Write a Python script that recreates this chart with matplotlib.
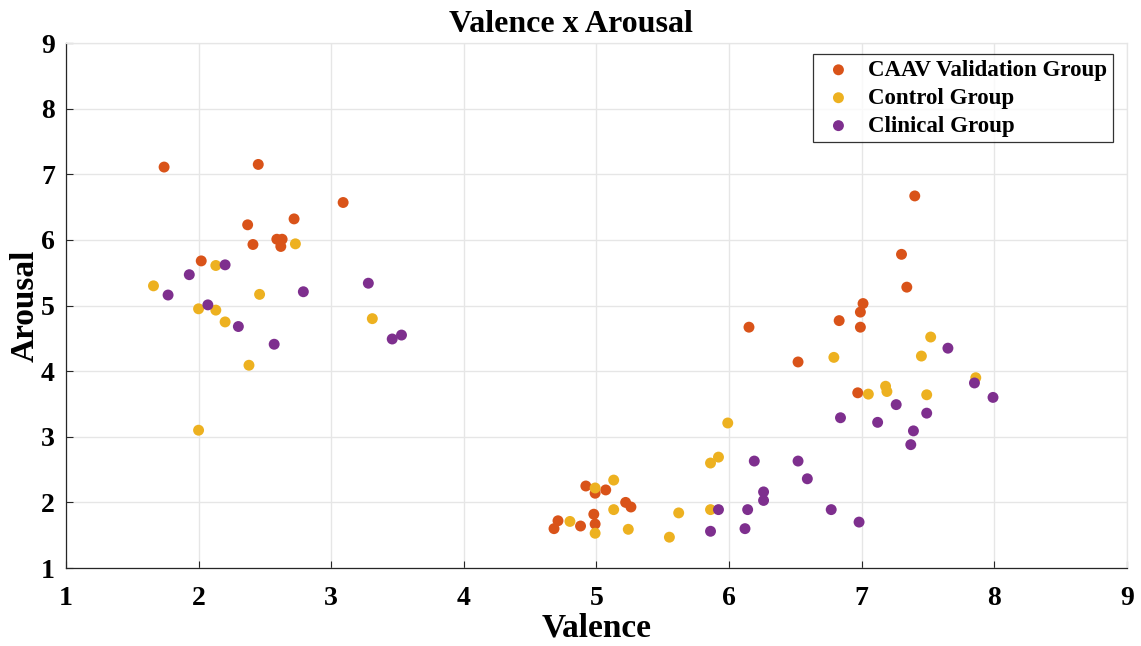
import matplotlib
matplotlib.use("Agg")
import matplotlib.pyplot as plt

caav_v = [1.74, 2.45, 3.09, 2.72, 2.37, 2.59, 2.63, 2.41, 2.62, 2.02,
          4.92, 4.99, 5.07, 5.22, 5.26, 4.98, 4.99, 4.71, 4.68, 4.88,
          7.30, 7.34, 7.01, 6.99, 6.83, 6.99, 6.15, 6.52, 6.97, 7.40]
caav_a = [7.11, 7.15, 6.57, 6.32, 6.23, 6.01, 6.01, 5.93, 5.90, 5.68,
          2.25, 2.14, 2.19, 2.00, 1.93, 1.82, 1.67, 1.72, 1.60, 1.64,
          5.78, 5.28, 5.03, 4.90, 4.77, 4.67, 4.67, 4.14, 3.67, 6.67]

ctrl_v = [2.73, 2.13, 1.66, 2.46, 2.00, 2.13, 2.20, 3.31, 2.38, 2.00,
          4.99, 5.13, 5.13, 4.80, 4.99, 5.24, 5.62, 5.55, 5.86, 5.86, 5.92, 5.99,
          6.79, 7.52, 7.45, 7.18, 7.19, 7.05, 7.49, 7.86]
ctrl_a = [5.94, 5.61, 5.30, 5.17, 4.95, 4.93, 4.75, 4.80, 4.09, 3.10,
          2.22, 2.34, 1.89, 1.71, 1.53, 1.59, 1.84, 1.47, 1.89, 2.60, 2.69, 3.21,
          4.21, 4.52, 4.23, 3.77, 3.69, 3.65, 3.64, 3.90]

clin_v = [2.20, 1.93, 1.77, 2.79, 3.28, 2.07, 2.30, 2.57, 3.46, 3.53,
          5.92, 5.86, 6.14, 6.12, 6.19, 6.26, 6.26, 6.52, 6.59, 6.77, 6.84, 6.98,
          7.65, 7.85, 7.99, 7.26, 7.49, 7.12, 7.39, 7.37]
clin_a = [5.62, 5.47, 5.16, 5.21, 5.34, 5.01, 4.68, 4.41, 4.49, 4.55,
          1.89, 1.56, 1.89, 1.60, 2.63, 2.16, 2.03, 2.63, 2.36, 1.89, 3.29, 1.70,
          4.35, 3.82, 3.60, 3.49, 3.36, 3.22, 3.09, 2.88]

labels = ["CAAV Validation Group", "Control Group", "Clinical Group"]
colors = ["#D95319", "#EDB120", "#7E2F8E"]
ticks = [1, 2, 3, 4, 5, 6, 7, 8, 9]

plt.rcParams['font.family'] = ['Liberation Serif', 'DejaVu Serif']
plt.rcParams['font.weight'] = 'bold'

fig = plt.figure(figsize=(11.41, 6.46), dpi=100)
ax = fig.add_axes([0.0578, 0.1207, 0.9299, 0.8127])

for xs, ys, lab, col in zip([caav_v, ctrl_v, clin_v], [caav_a, ctrl_a, clin_a], labels, colors):
    ax.scatter(xs, ys, s=62, color=col, label=lab, edgecolors='none', zorder=3)

ax.set_xlim(1, 9)
ax.set_ylim(1, 9)
ax.set_xticks(ticks)
ax.set_yticks(ticks)
ax.tick_params(axis='both', direction='in', length=5, width=0.8, color='#262626',
               labelsize=20)
ax.tick_params(axis='x', pad=13)
ax.tick_params(axis='y', pad=8)
for lab in ax.get_xticklabels() + ax.get_yticklabels():
    lab.set_fontweight('bold')
ax.grid(True, color='#e6e6e6', linewidth=1.0, zorder=0)
ax.set_axisbelow(True)
for s in ['left', 'bottom']:
    ax.spines[s].set_color('#262626')
    ax.spines[s].set_linewidth(0.9)
for s in ['top', 'right']:
    ax.spines[s].set_color('#e6e6e6')
    ax.spines[s].set_linewidth(0.9)

ax.set_xlabel('Valence', fontsize=24, fontweight='bold', labelpad=1)
ax.set_ylabel('Arousal', fontsize=24, fontweight='bold', labelpad=0)
ax.set_title('Valence x Arousal', fontsize=23, fontweight='bold', pad=8, x=0.476)

leg = ax.legend(loc='upper right', bbox_to_anchor=(0.9868, 0.979), borderaxespad=0,
                prop={'weight': 'bold', 'size': 16.5}, frameon=True, fancybox=False,
                edgecolor='black', handletextpad=0.45, borderpad=0.25,
                labelspacing=0.3, handlelength=1.7, markerscale=1.0)
leg.get_frame().set_linewidth(0.9)

fig.savefig('out.png', dpi=100)
